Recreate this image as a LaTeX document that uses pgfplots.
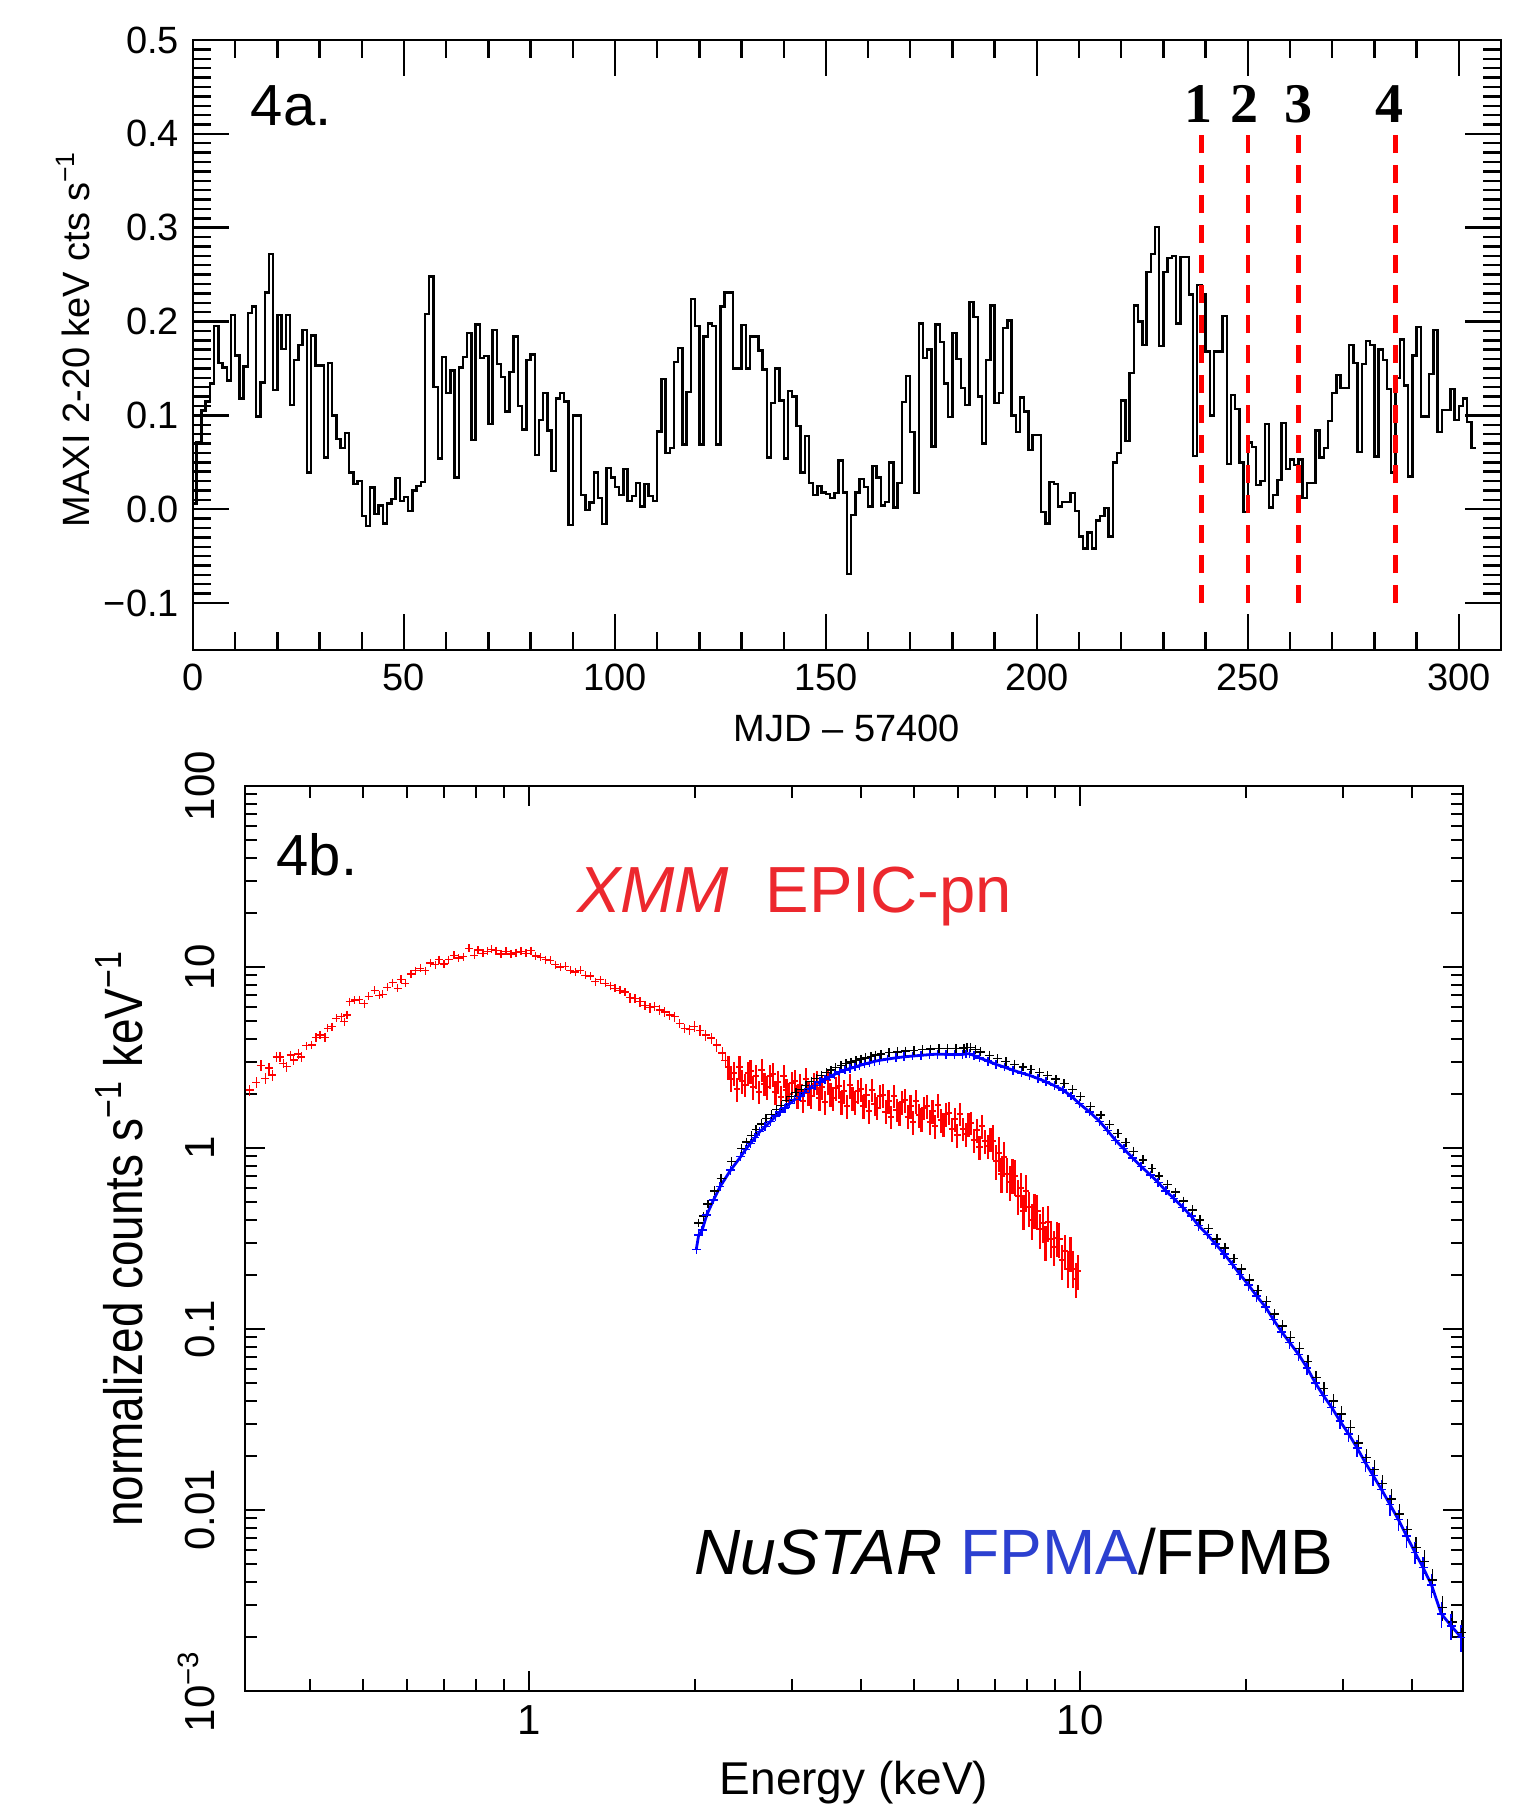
\documentclass[border=0pt]{standalone}
\usepackage{fontspec}
\setmainfont{Liberation Sans}
\newfontfamily\timesfont{Liberation Serif}
\usepackage{graphicx}
\usepackage{xcolor}
\usepackage{pgfplots}
\usepackage{pgfplotstable}
\pgfplotsset{compat=1.18}

\definecolor{xmmred}{RGB}{236,40,46}
\definecolor{fpmablue}{RGB}{44,64,208}

% XMM EPIC-pn below 2.3 keV: energy (keV), normalized counts, relative error
\pgfplotstableread{
E F e
0.311 2.09 0.07
0.320 2.30 0.07
0.326 2.85 0.07
0.332 2.43 0.07
0.337 2.76 0.07
0.342 2.53 0.07
0.348 3.19 0.06
0.353 3.19 0.06
0.358 2.94 0.06
0.363 2.81 0.06
0.369 3.26 0.06
0.374 3.06 0.06
0.381 3.31 0.06
0.386 3.19 0.06
0.394 3.67 0.05
0.403 3.70 0.05
0.410 4.08 0.05
0.417 4.20 0.05
0.426 4.08 0.05
0.431 4.58 0.05
0.439 4.68 0.05
0.447 5.20 0.05
0.456 5.31 0.05
0.462 4.99 0.05
0.467 5.42 0.05
0.472 6.43 0.04
0.482 6.56 0.04
0.492 6.60 0.04
0.502 6.28 0.04
0.511 6.89 0.04
0.524 7.43 0.04
0.535 6.97 0.04
0.542 7.05 0.04
0.553 7.73 0.04
0.565 8.20 0.04
0.577 7.62 0.04
0.585 8.56 0.04
0.596 8.13 0.04
0.610 9.15 0.04
0.622 9.55 0.04
0.635 9.84 0.04
0.648 9.55 0.04
0.662 10.5 0.04
0.676 10.3 0.04
0.686 11.0 0.04
0.700 10.4 0.04
0.714 11.0 0.04
0.730 11.6 0.04
0.745 11.2 0.04
0.760 11.4 0.04
0.778 12.7 0.04
0.795 11.6 0.04
0.808 12.4 0.04
0.824 11.9 0.04
0.841 12.2 0.04
0.855 12.5 0.04
0.871 12.3 0.04
0.889 11.8 0.04
0.907 12.2 0.04
0.927 11.8 0.04
0.946 12.0 0.04
0.966 12.2 0.04
0.986 11.9 0.04
1.007 12.3 0.04
1.028 11.5 0.04
1.049 11.3 0.04
1.071 11.0 0.04
1.093 10.9 0.04
1.116 10.3 0.04
1.139 10.0 0.04
1.163 10.1 0.04
1.188 9.6 0.05
1.213 9.4 0.05
1.238 9.6 0.05
1.264 9.0 0.05
1.291 8.9 0.05
1.318 8.3 0.05
1.346 8.5 0.05
1.374 8.13 0.05
1.403 7.9 0.05
1.432 7.62 0.05
1.462 7.43 0.05
1.493 7.27 0.05
1.524 6.77 0.06
1.556 6.70 0.06
1.589 6.43 0.06
1.622 6.13 0.06
1.656 5.96 0.06
1.690 6.05 0.06
1.726 5.80 0.06
1.762 5.65 0.06
1.799 5.42 0.06
1.837 5.31 0.06
1.875 4.89 0.06
1.915 4.58 0.06
1.955 4.50 0.06
1.995 4.68 0.07
2.04 4.45 0.07
2.09 4.20 0.07
2.14 4.05 0.07
2.19 3.70 0.08
2.24 3.35 0.08
2.27 3.05 0.08
}\xmm

% NuSTAR FPMA
\pgfplotstableread{
E F e
2.01 0.275 0.04
2.03 0.33 0.04
2.06 0.352 0.04
2.10 0.427 0.04
2.16 0.516 0.03
2.22 0.611 0.03
2.32 0.755 0.03
2.42 0.895 0.03
2.47 0.98 0.03
2.52 1.06 0.03
2.57 1.14 0.03
2.62 1.23 0.03
2.68 1.31 0.03
2.74 1.40 0.03
2.80 1.50 0.03
2.85 1.58 0.03
2.91 1.66 0.03
2.97 1.76 0.03
3.03 1.85 0.03
3.10 1.92 0.03
3.16 2.02 0.03
3.23 2.13 0.03
3.30 2.22 0.03
3.37 2.32 0.03
3.44 2.40 0.03
3.51 2.47 0.03
3.58 2.55 0.03
3.66 2.63 0.03
3.74 2.70 0.03
3.82 2.75 0.03
3.90 2.80 0.03
3.98 2.86 0.03
4.06 2.91 0.03
4.15 2.96 0.03
4.23 3.01 0.03
4.32 3.05 0.03
4.47 3.10 0.03
4.63 3.15 0.03
4.79 3.19 0.03
4.96 3.22 0.03
5.14 3.25 0.03
5.32 3.28 0.03
5.51 3.30 0.03
5.71 3.29 0.03
5.91 3.28 0.03
6.12 3.29 0.03
6.20 3.31 0.03
6.29 3.32 0.03
6.42 3.24 0.03
6.56 3.15 0.03
6.80 3.02 0.03
7.03 2.90 0.03
7.28 2.80 0.03
7.55 2.69 0.03
7.82 2.60 0.03
8.09 2.52 0.03
8.38 2.42 0.03
8.67 2.32 0.03
8.98 2.21 0.03
9.30 2.09 0.03
9.62 1.94 0.04
9.96 1.76 0.04
10.4 1.58 0.04
10.85 1.40 0.04
11.2 1.25 0.04
11.6 1.10 0.04
12.0 0.99 0.05
12.45 0.88 0.05
12.9 0.79 0.05
13.4 0.71 0.05
13.85 0.645 0.05
14.3 0.58 0.05
14.8 0.525 0.05
15.35 0.47 0.05
15.9 0.42 0.06
16.4 0.372 0.06
17.0 0.333 0.06
17.6 0.295 0.06
18.25 0.26 0.06
18.9 0.227 0.06
19.5 0.20 0.07
20.2 0.175 0.07
20.9 0.152 0.07
21.7 0.132 0.07
22.4 0.113 0.07
23.2 0.0965 0.08
24.0 0.084 0.08
24.9 0.0724 0.08
25.8 0.061 0.09
26.7 0.0504 0.09
27.6 0.043 0.09
28.6 0.0369 0.09
29.6 0.031 0.10
30.7 0.0263 0.10
31.8 0.0220 0.11
32.9 0.0183 0.11
34.0 0.0155 0.12
35.2 0.0130 0.12
36.5 0.0107 0.13
37.8 0.00883 0.13
39.1 0.0072 0.14
40.5 0.00582 0.14
41.9 0.0048 0.15
43.4 0.00385 0.15
45.2 0.00267 0.16
47.1 0.00229 0.16
49.1 0.00198 0.17
}\fpma

% NuSTAR FPMB
\pgfplotstableread{
E F e
2.03 0.385 0.04
2.07 0.42 0.04
2.11 0.49 0.04
2.17 0.58 0.03
2.23 0.68 0.03
2.33 0.84 0.03
2.43 0.99 0.03
2.48 1.08 0.03
2.53 1.17 0.03
2.58 1.27 0.03
2.64 1.36 0.03
2.69 1.45 0.03
2.75 1.53 0.03
2.81 1.63 0.03
2.87 1.72 0.03
2.93 1.83 0.03
2.99 1.93 0.03
3.05 2.02 0.03
3.12 2.10 0.03
3.18 2.22 0.03
3.25 2.33 0.03
3.32 2.42 0.03
3.39 2.52 0.03
3.46 2.61 0.03
3.53 2.70 0.03
3.60 2.78 0.03
3.68 2.85 0.03
3.76 2.92 0.03
3.84 2.98 0.03
3.92 3.04 0.03
4.00 3.10 0.03
4.08 3.15 0.03
4.17 3.20 0.03
4.25 3.26 0.03
4.35 3.30 0.03
4.50 3.36 0.03
4.66 3.40 0.03
4.82 3.43 0.03
4.99 3.46 0.03
5.17 3.50 0.03
5.35 3.52 0.03
5.54 3.54 0.03
5.74 3.55 0.03
5.95 3.55 0.03
6.15 3.56 0.03
6.23 3.58 0.03
6.32 3.60 0.03
6.45 3.50 0.03
6.60 3.40 0.03
6.84 3.25 0.03
7.07 3.12 0.03
7.33 3.00 0.03
7.60 2.90 0.03
7.87 2.80 0.03
8.14 2.72 0.03
8.43 2.62 0.03
8.72 2.52 0.03
9.03 2.40 0.03
9.35 2.27 0.03
9.68 2.10 0.04
10.02 1.92 0.04
10.45 1.70 0.04
10.9 1.52 0.04
11.3 1.35 0.04
11.7 1.20 0.04
12.1 1.07 0.05
12.5 0.96 0.05
13.0 0.86 0.05
13.5 0.77 0.05
13.9 0.70 0.05
14.4 0.63 0.05
14.9 0.57 0.05
15.4 0.51 0.05
16.0 0.455 0.06
16.5 0.40 0.06
17.1 0.36 0.06
17.7 0.315 0.06
18.3 0.28 0.06
19.0 0.245 0.06
19.6 0.215 0.07
20.3 0.187 0.07
21.0 0.163 0.07
21.8 0.142 0.07
22.5 0.121 0.07
23.3 0.104 0.08
24.1 0.090 0.08
25.0 0.078 0.08
25.9 0.066 0.09
26.8 0.054 0.09
27.7 0.047 0.09
28.8 0.040 0.09
29.8 0.034 0.10
30.9 0.0285 0.10
32.0 0.0235 0.11
33.1 0.0195 0.11
34.2 0.0168 0.12
35.4 0.0140 0.12
36.7 0.0115 0.13
38.0 0.0095 0.13
39.3 0.0078 0.14
40.7 0.0062 0.14
42.1 0.0052 0.15
43.6 0.0041 0.15
45.4 0.0029 0.16
47.3 0.0024 0.16
49.2 0.0021 0.17
}\fpmb

\begin{document}
\begin{tikzpicture}
\useasboundingbox (0,0) rectangle (384pt,453pt);

% ---- 4a: MAXI light curve ----
\begin{axis}[
  at={(48.25pt,290.5pt)}, anchor=south west,
  scale only axis, width=327pt, height=152.5pt,
  xmin=0, xmax=310, ymin=-0.15, ymax=0.5,
  xtick={0,50,100,150,200,250,300},
  xticklabels={0,50,100,150,200,250,300},
  minor x tick num=4,
  ytick={-0.1,0,0.1,0.2,0.3,0.4,0.5},
  yticklabels={−0.1,0.0,0.1,0.2,0.3,0.4,0.5},
  minor y tick num=9,
  tick align=inside,
  major tick length=9pt, minor tick length=4.5pt,
  tick style={black, line width=0.6pt},
  axis line style={line width=0.7pt},
  tick label style={font=\fontsize{9.5}{11}\selectfont},
  xlabel={MJD – 57400},
  ylabel={MAXI 2-20 keV cts s\textsuperscript{−1}},
  every axis x label/.style={at={(axis description cs:0.5,-0.1285)}, anchor=center, font=\fontsize{9.5}{11}\selectfont},
  every axis y label/.style={at={(axis description cs:-0.0917,0.51)}, anchor=center, rotate=90, font=\fontsize{9.5}{11}\selectfont},
]
\addplot[const plot, black, line width=0.6pt] coordinates {
(0,0.006)(0.8,0.071)(2,0.105)(3,0.115)(4,0.134)(5,0.195)(6,0.156)(7,0.151)(8,0.137)(9,0.207)
(10,0.164)(11,0.118)(12,0.152)(13,0.209)(14,0.216)(15,0.099)(16,0.135)(17,0.231)(18,0.272)(19,0.127)
(20,0.207)(21,0.171)(22,0.207)(23,0.111)(24,0.159)(25,0.175)(26,0.191)(27,0.039)(28,0.185)(29,0.153)
(30,0.153)(31,0.055)(32,0.156)(33,0.10)(34,0.075)(35,0.065)(36,0.081)(37,0.039)(38,0.027)(39,0.03)
(40,-0.007)(41,-0.018)(42,0.023)(43,-0.005)(44,0.004)(45,-0.015)(46,0.006)(47,0.011)(48,0.033)(49,0.009)
(50,0.013)(51,-0.002)(52,0.02)(53,0.025)(54,0.029)(55,0.208)(56,0.248)(57,0.13)(58,0.054)(59,0.162)
(60,0.124)(61,0.148)(62,0.034)(63,0.151)(64,0.162)(65,0.188)(66,0.074)(67,0.197)(68,0.161)(69,0.163)
(70,0.091)(71,0.191)(72,0.155)(73,0.141)(74,0.104)(75,0.146)(76,0.184)(77,0.11)(78,0.085)(79,0.159)
(80,0.165)(81,0.058)(82,0.095)(83,0.124)(84,0.084)(85,0.041)(86,0.118)(87,0.124)(88,0.115)(89,-0.017)
(90,0.10)(91,0.10)(92,0.015)(93,-0.001)(94,0.007)(95,0.039)(96,0.012)(97,-0.016)(98,0.044)(99,0.034)
(100,0.024)(101,0.015)(102,0.043)(103,0.009)(104,0.014)(105,0.028)(106,0.003)(107,0.027)(108,0.014)(109,0.009)
(110,0.083)(111,0.139)(112,0.06)(113,0.065)(114,0.157)(115,0.172)(116,0.069)(117,0.125)(118,0.224)(119,0.195)
(120,0.069)(121,0.184)(122,0.198)(123,0.195)(124,0.069)(125,0.216)(126,0.231)(127,0.231)(128,0.15)(129,0.15)
(130,0.196)(131,0.15)(132,0.184)(133,0.184)(134,0.169)(135,0.149)(136,0.055)(137,0.113)(138,0.15)(139,0.116)
(140,0.054)(141,0.126)(142,0.12)(143,0.089)(144,0.039)(145,0.078)(146,0.028)(147,0.015)(148,0.025)(149,0.018)
(150,0.016)(151,0.012)(152,0.017)(153,0.052)(154,0.018)(155,-0.069)(156,-0.006)(157,0.018)(158,0.032)(159,0.024)
(160,0.003)(161,0.046)(162,0.034)(163,0.004)(164,0.008)(165,0.05)(166,0.002)(167,0.028)(168,0.114)(169,0.142)
(170,0.082)(171,0.017)(172,0.198)(173,0.161)(174,0.17)(175,0.067)(176,0.197)(177,0.178)(178,0.134)(179,0.098)
(180,0.188)(181,0.16)(182,0.129)(183,0.111)(184,0.221)(185,0.205)(186,0.12)(187,0.07)(188,0.159)(189,0.217)
(190,0.113)(191,0.124)(192,0.193)(193,0.201)(194,0.10)(195,0.082)(196,0.119)(197,0.104)(198,0.063)(199,0.079)
(200,0.079)(201,-0.003)(202,-0.015)(203,0.029)(204,0.027)(205,0.003)(206,0.008)(207,0.008)(208,0.017)(209,-0.002)
(210,-0.029)(211,-0.042)(212,-0.025)(213,-0.042)(214,-0.012)(215,-0.007)(216,0.001)(217,-0.029)(218,0.05)(219,0.06)
(220,0.116)(221,0.073)(222,0.145)(223,0.217)(224,0.20)(225,0.175)(226,0.253)(227,0.272)(228,0.301)(229,0.174)
(230,0.253)(231,0.268)(232,0.27)(233,0.198)(234,0.269)(235,0.269)(236,0.229)(237,0.057)(238,0.239)(239,0.229)
(240,0.168)(241,0.10)(242,0.168)(243,0.168)(244,0.206)(245,0.048)(246,0.122)(247,0.107)(248,0.05)(249,-0.003)
(250,0.071)(251,0.066)(252,0.026)(253,0.03)(254,0.091)(255,0.002)(256,0.015)(257,0.031)(258,0.092)(259,0.043)
(260,0.053)(261,0.047)(262,0.053)(263,0.012)(264,0.028)(265,0.028)(266,0.084)(267,0.055)(268,0.065)(269,0.094)
(270,0.124)(271,0.143)(272,0.129)(273,0.129)(274,0.175)(275,0.156)(276,0.061)(277,0.155)(278,0.179)(279,0.175)
(280,0.056)(281,0.17)(282,0.159)(283,0.128)(284,0.039)(285,0.14)(286,0.181)(287,0.132)(288,0.035)(289,0.164)
(290,0.194)(291,0.099)(292,0.099)(293,0.144)(294,0.191)(295,0.082)(296,0.106)(297,0.106)(298,0.128)(299,0.095)
(300,0.11)(301,0.118)(302,0.093)(303,0.065)(304,0.065)
};
\addplot[red, line width=1.1pt, dash pattern=on 4.5pt off 3pt] coordinates {(239,-0.1) (239,0.40)};
\addplot[red, line width=1.1pt, dash pattern=on 4.5pt off 3pt] coordinates {(250,-0.1) (250,0.40)};
\addplot[red, line width=1.1pt, dash pattern=on 4.5pt off 3pt] coordinates {(262,-0.1) (262,0.40)};
\addplot[red, line width=1.1pt, dash pattern=on 4.5pt off 3pt] coordinates {(285,-0.1) (285,0.40)};
\node[anchor=base, font=\timesfont\bfseries\fontsize{14}{16}\selectfont] at (axis cs:238.4,0.412) {1};
\node[anchor=base, font=\timesfont\bfseries\fontsize{14}{16}\selectfont] at (axis cs:249.1,0.412) {2};
\node[anchor=base, font=\timesfont\bfseries\fontsize{14}{16}\selectfont] at (axis cs:262.0,0.412) {3};
\node[anchor=base, font=\timesfont\bfseries\fontsize{14}{16}\selectfont] at (axis cs:283.6,0.412) {4};
\node[anchor=base west, inner sep=0pt, font=\fontsize{14.5}{16}\selectfont] at (axis cs:13.5,0.409) {4a.};
\end{axis}

% ---- 4b: broadband spectrum ----
\begin{axis}[
  at={(61.25pt,30.25pt)}, anchor=south west,
  scale only axis, width=304.5pt, height=226.25pt,
  xmode=log, ymode=log,
  xmin=0.305, xmax=49.5, ymin=1e-3, ymax=100,
  xtick={1,10}, xticklabels={1,10},
  minor xtick={0.4,0.5,0.6,0.7,0.8,0.9,2,3,4,5,6,7,8,9,20,30,40},
  ytick={0.001,0.01,0.1,1,10,100},
  yticklabels={10\textsuperscript{−3},0.01,0.1,1,10,100},
  minor ytick={0.002,0.003,0.004,0.005,0.006,0.007,0.008,0.009,
    0.02,0.03,0.04,0.05,0.06,0.07,0.08,0.09,
    0.2,0.3,0.4,0.5,0.6,0.7,0.8,0.9,
    2,3,4,5,6,7,8,9,20,30,40,50,60,70,80,90},
  tick align=inside,
  major tick length=5pt, minor tick length=3pt,
  tick style={black, line width=0.5pt},
  axis line style={line width=0.5pt},
  tick label style={font=\fontsize{10.5}{12}\selectfont},
  yticklabel style={xshift=-4pt, rotate=90, anchor=south},
  xlabel={Energy (keV)},
  ylabel={\scalebox{0.85}[1]{normalized counts s\textsuperscript{−1} keV\textsuperscript{−1}}},
  every axis x label/.style={at={(axis description cs:0.5,-0.1017)}, anchor=center, font=\fontsize{11.5}{13}\selectfont},
  every axis y label/.style={at={(axis description cs:-0.1034,0.5)}, anchor=center, rotate=90, font=\fontsize{13.5}{15}\selectfont},
]
\addplot[only marks, mark=+, mark size=1pt, red, line width=0.35pt,
  error bars/.cd, y dir=both, y explicit relative, error mark=none,
  error bar style={line width=0.35pt, red}]
  table[x=E, y=F, y error=e] {\xmm};
% XMM 2.3-6.9 keV
\addplot[only marks, mark=+, mark size=0.8pt, red, line width=0.5pt,
  error bars/.cd, y dir=both, y fixed relative=0.15, error mark=none,
  error bar style={line width=0.55pt, red}]
  coordinates {
  (2.300,2.80)(2.327,2.40)(2.354,2.60)(2.381,2.12)(2.408,2.79)(2.436,2.34)(2.465,2.24)(2.493,2.59)
  (2.522,2.66)(2.551,2.17)(2.581,2.50)(2.611,2.05)(2.641,2.71)(2.672,2.27)(2.703,2.16)(2.734,2.50)
  (2.766,2.55)(2.798,2.03)(2.830,2.33)(2.863,1.92)(2.896,2.51)(2.930,2.10)(2.964,2.00)(2.998,2.30)
  (3.033,2.36)(3.068,1.93)(3.103,2.22)(3.139,1.83)(3.176,2.42)(3.212,2.02)(3.250,1.93)(3.287,2.25)
  (3.325,2.31)(3.364,1.89)(3.403,2.18)(3.442,1.80)(3.482,2.37)(3.522,1.99)(3.563,1.89)(3.604,2.14)
  (3.646,2.19)(3.688,1.79)(3.731,2.06)(3.774,1.70)(3.818,2.24)(3.862,1.88)(3.907,1.79)(3.952,2.07)
  (3.998,2.11)(4.044,1.71)(4.091,1.96)(4.139,1.60)(4.187,2.10)(4.235,1.76)(4.284,1.67)(4.334,1.93)
  (4.384,1.96)(4.435,1.59)(4.486,1.82)(4.538,1.49)(4.591,1.95)(4.644,1.63)(4.698,1.56)(4.752,1.80)
  (4.808,1.84)(4.863,1.49)(4.920,1.70)(4.977,1.39)(5.034,1.82)(5.093,1.52)(5.152,1.45)(5.211,1.67)
  (5.272,1.71)(5.333,1.39)(5.395,1.60)(5.457,1.32)(5.520,1.72)(5.584,1.43)(5.649,1.35)(5.715,1.54)
  (5.781,1.57)(5.848,1.27)(5.916,1.45)(5.984,1.18)(6.054,1.55)(6.124,1.28)(6.195,1.19)(6.267,1.36)
  (6.339,1.38)(6.413,1.11)(6.487,1.25)(6.562,1.01)(6.638,1.32)(6.715,1.09)(6.793,1.02)(6.872,1.12)
  };
% XMM 6.9-9.9 keV
\addplot[only marks, mark=+, mark size=0.8pt, red, line width=0.5pt,
  error bars/.cd, y dir=both, y fixed relative=0.22, error mark=none,
  error bar style={line width=0.55pt, red}]
  coordinates {
  (6.951,1.10)(7.032,0.85)(7.113,0.94)(7.196,0.72)(7.279,0.89)(7.364,0.72)(7.449,0.65)(7.535,0.71)
  (7.623,0.70)(7.711,0.545)(7.800,0.60)(7.891,0.45)(7.982,0.58)(8.075,0.47)(8.168,0.40)(8.263,0.455)
  (8.359,0.45)(8.455,0.355)(8.553,0.385)(8.652,0.305)(8.753,0.39)(8.854,0.315)(8.957,0.285)(9.060,0.32)
  (9.165,0.315)(9.272,0.24)(9.379,0.27)(9.488,0.215)(9.598,0.265)(9.709,0.215)(9.822,0.19)(9.90,0.21)
  };
\addplot[only marks, mark=+, mark size=1.1pt, black, line width=0.35pt,
  error bars/.cd, y dir=both, y explicit relative, error mark=none,
  error bar style={line width=0.35pt, black}]
  table[x=E, y=F, y error=e] {\fpmb};
\addplot[only marks, mark=+, mark size=1.1pt, blue, line width=0.35pt,
  error bars/.cd, y dir=both, y explicit relative, error mark=none,
  error bar style={line width=0.35pt, blue}]
  table[x=E, y=F, y error=e] {\fpma};
\addplot[blue, line width=0.7pt] table[x=E, y=F] {\fpma};
\node[anchor=base west, inner sep=0pt, font=\fontsize{14.5}{16}\selectfont] at (axis cs:0.347,32.2) {4b.};
\node[anchor=base west, inner sep=0pt, font=\fontsize{16.3}{18}\selectfont, text=xmmred] at (axis cs:1.218,19.9) {\textit{XMM}\ \ EPIC-pn};
\node[anchor=base west, inner sep=0pt, font=\fontsize{16}{18}\selectfont] at (axis cs:1.991,0.00443) {\textit{NuSTAR} \textcolor{fpmablue}{FPMA}/FPMB};
\end{axis}
\end{tikzpicture}
\end{document}
